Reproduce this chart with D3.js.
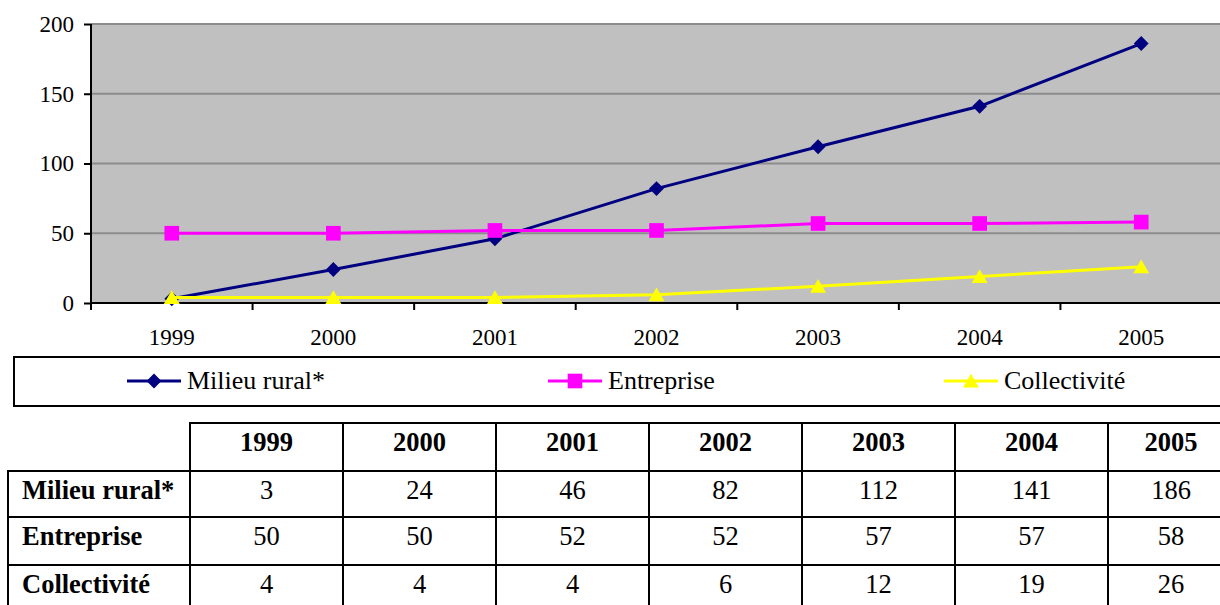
<!DOCTYPE html>
<html>
<head>
<meta charset="utf-8">
<script src="https://cdn.jsdelivr.net/npm/d3@7/dist/d3.min.js"></script>
</head>
<body style="margin:0;background:#fff">
<svg id="chart" width="1220" height="605"></svg>
<script>
const FONT = "Liberation Serif";

// Years on the category axis and in the table header
const years = ["1999", "2000", "2001", "2002", "2003", "2004", "2005"];

// Series values
const milieuRural = [3, 24, 46, 82, 112, 141, 186];
const entreprise = [50, 50, 52, 52, 57, 57, 58];
const collectivite = [4, 4, 4, 6, 12, 19, 26];

const seriesNames = ["Milieu rural*", "Entreprise", "Collectivité"];
const yTicks = [0, 50, 100, 150, 200];

const series = [
  { name: seriesNames[0], values: milieuRural, color: "#000080", symbol: "diamond" },
  { name: seriesNames[1], values: entreprise, color: "#FF00FF", symbol: "square" },
  { name: seriesNames[2], values: collectivite, color: "#FFFF00", symbol: "triangle" }
];

const svg = d3.select("#chart").attr("font-family", FONT);

// Plot area
const plot = { left: 91, right: 1222, top: 24, bottom: 303 };

const x = d3.scaleBand().domain(years).range([plot.left, plot.right]).padding(0);
const y = d3.scaleLinear().domain([0, 200]).range([plot.bottom, plot.top]);

svg.append("rect")
  .attr("x", plot.left).attr("y", plot.top)
  .attr("width", plot.right - plot.left).attr("height", plot.bottom - plot.top)
  .attr("fill", "#C0C0C0");

// Horizontal gridlines
svg.append("g").selectAll("line")
  .data(yTicks.filter(d => d > 0))
  .join("line")
  .attr("x1", plot.left).attr("x2", plot.right)
  .attr("y1", d => y(d)).attr("y2", d => y(d))
  .attr("stroke", "#8C8C8C").attr("stroke-width", 2);

// Y axis
const yAxis = svg.append("g")
  .attr("transform", `translate(${plot.left},0)`)
  .call(d3.axisLeft(y).tickValues(yTicks).tickSize(7).tickPadding(10));
yAxis.attr("font-family", FONT).attr("font-size", 23);
yAxis.select(".domain").attr("stroke", "#000").attr("stroke-width", 2)
  .attr("d", `M0,${plot.top}V${plot.bottom}`);
yAxis.selectAll(".tick line").attr("stroke", "#000").attr("stroke-width", 2);
yAxis.selectAll(".tick text").attr("fill", "#000");

// X axis: ticks at category boundaries, labels centred in each band
const xAxis = svg.append("g").attr("transform", `translate(0,${plot.bottom})`);
xAxis.append("line")
  .attr("x1", plot.left).attr("x2", plot.right)
  .attr("stroke", "#000").attr("stroke-width", 2);
xAxis.selectAll("line.tick")
  .data(years)
  .join("line").attr("class", "tick")
  .attr("x1", d => x(d)).attr("x2", d => x(d))
  .attr("y1", 0).attr("y2", 7)
  .attr("stroke", "#000").attr("stroke-width", 2);
xAxis.selectAll("text")
  .data(years)
  .join("text")
  .attr("x", d => x(d) + x.bandwidth() / 2)
  .attr("y", 42)
  .attr("text-anchor", "middle")
  .attr("font-family", FONT)
  .attr("font-size", 23)
  .text(d => d);

// Marker shapes
const symbolFor = {
  diamond: d3.symbol().type(d3.symbolSquare).size(110),
  square: d3.symbol().type(d3.symbolSquare).size(215),
  triangle: d3.symbol().type(d3.symbolTriangle).size(110)
};
function drawMarker(g, s, cx, cy) {
  return g.append("path")
    .attr("d", symbolFor[s.symbol]())
    .attr("fill", s.color)
    .attr("transform", s.symbol === "diamond"
      ? `translate(${cx},${cy}) rotate(45)`
      : s.symbol === "triangle" ? `translate(${cx},${cy + 2})` : `translate(${cx},${cy})`);
}

const line = d3.line()
  .x((d, i) => x(years[i]) + x.bandwidth() / 2)
  .y(d => y(d));

series.forEach(s => {
  const g = svg.append("g");
  g.append("path")
    .attr("d", line(s.values))
    .attr("fill", "none")
    .attr("stroke", s.color)
    .attr("stroke-width", 3);
  s.values.forEach((v, i) => drawMarker(g, s, x(years[i]) + x.bandwidth() / 2, y(v)));
});

// Legend box
const legend = svg.append("g");
legend.append("rect")
  .attr("x", 14).attr("y", 357).attr("width", 1230).attr("height", 49)
  .attr("fill", "#fff").attr("stroke", "#000").attr("stroke-width", 2);
const legendX = [127, 548, 944];
series.forEach((s, i) => {
  const lx = legendX[i];
  legend.append("line")
    .attr("x1", lx).attr("x2", lx + 54)
    .attr("y1", 381).attr("y2", 381)
    .attr("stroke", s.color).attr("stroke-width", 3);
  drawMarker(legend, s, lx + 27, 381);
  legend.append("text")
    .attr("x", lx + 60).attr("y", 389)
    .attr("font-family", FONT)
    .attr("font-size", 26)
    .text(s.name);
});

// Data table
const table = svg.append("g");
const colEdges = [190, 343, 496, 649, 802, 955, 1108, 1261];
const labelLeft = 8;
const rowEdges = [423, 471, 517, 565, 613];

function cell(x0, y0, w, h) {
  table.append("rect").attr("x", x0).attr("y", y0).attr("width", w).attr("height", h)
    .attr("fill", "none").attr("stroke", "#000").attr("stroke-width", 2);
}
function cellText(cx, y0, txt, bold, anchor) {
  table.append("text")
    .attr("x", cx).attr("y", y0 + 27.5)
    .attr("text-anchor", anchor || "middle")
    .attr("font-family", FONT)
    .attr("font-weight", bold ? "bold" : "normal")
    .attr("font-size", 26.5)
    .text(txt);
}
const colCentre = i => (colEdges[i] + Math.min(colEdges[i + 1], 1234)) / 2;

// header cells
years.forEach((yr, i) => {
  cell(colEdges[i], rowEdges[0], colEdges[i + 1] - colEdges[i], rowEdges[1] - rowEdges[0]);
  cellText(colCentre(i), rowEdges[0], yr, true);
});

// body rows
series.forEach((s, r) => {
  const y0 = rowEdges[r + 1], y1 = rowEdges[r + 2];
  cell(labelLeft, y0, colEdges[0] - labelLeft, y1 - y0);
  cellText(labelLeft + 14, y0, s.name, true, "start");
  s.values.forEach((v, i) => {
    cell(colEdges[i], y0, colEdges[i + 1] - colEdges[i], y1 - y0);
    cellText(colCentre(i), y0, v, false);
  });
});
</script>
</body>
</html>
